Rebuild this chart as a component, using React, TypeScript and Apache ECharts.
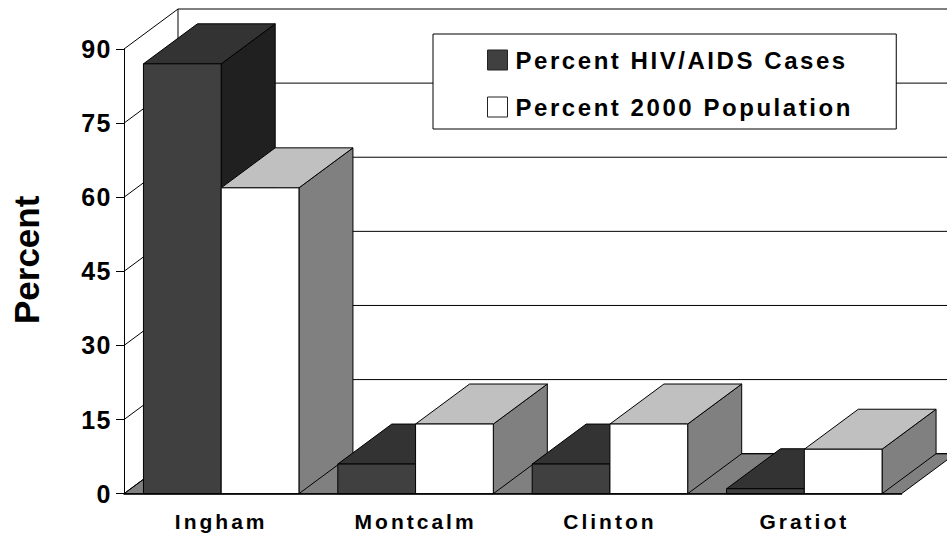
import React, { useEffect, useRef } from "react";
import * as echarts from "echarts";

const categories = ["Ingham", "Montcalm", "Clinton", "Gratiot"];
const casesValues = [87, 6, 6, 1];
const populationValues = [61.9, 14.1, 14.1, 9];
const yTicks = [0, 15, 30, 45, 60, 75, 90];
const DX = 54;
const DY = -40;
const FONT = "'Liberation Sans', Arial, sans-serif";
const caseColors = { front: "#404040", top: "#333333", side: "#202020" };
const popColors = { front: "#ffffff", top: "#c0c0c0", side: "#808080" };

function poly(points: number[][], fill: string, z2: number) {
  return {
    type: "polygon",
    z2,
    shape: { points },
    style: { fill, stroke: "#000", lineWidth: 1 },
  };
}

function barRenderer(colors: typeof caseColors, side: number, order: number) {
  return (params: any, api: any) => {
    const idx = api.value(0);
    const [cx, y1] = api.coord([idx, api.value(1)]);
    const [, y0] = api.coord([idx, 0]);
    const w = api.size([1, 0])[0] * 0.4;
    const xa = side < 0 ? cx - w : cx;
    const xb = xa + w;
    const z2 = 10 + idx * 10 + order;
    return {
      type: "group",
      children: [
        poly([[xb, y1], [xb + DX, y1 + DY], [xb + DX, y0 + DY], [xb, y0]], colors.side, z2),
        poly([[xa, y1], [xa + DX, y1 + DY], [xb + DX, y1 + DY], [xb, y1]], colors.top, z2),
        poly([[xa, y1], [xb, y1], [xb, y0], [xa, y0]], colors.front, z2),
      ],
    };
  };
}

function wallRenderer(params: any, api: any) {
  const tick = api.value(1);
  const [, y] = api.coord([0, tick]);
  const cs = params.coordSys;
  const xl = cs.x;
  const xr = cs.x + cs.width;
  const line = (x1: number, y1: number, x2: number, y2: number) => ({
    type: "line",
    z2: 1,
    shape: { x1, y1, x2, y2 },
    style: { stroke: "#000", lineWidth: 1 },
  });
  const children: any[] = [
    line(xl, y, xl + DX, y + DY),
    line(xl + DX, y + DY, xr + DX, y + DY),
  ];
  if (tick === 0) {
    children.unshift({
      type: "polygon",
      z2: 0,
      shape: { points: [[xl, y], [xl + DX, y + DY], [xr + DX, y + DY], [xr, y]] },
      style: { fill: "#808080", stroke: "#000", lineWidth: 1 },
    });
    children.push(line(xl + DX, y + DY, xl + DX, cs.y + DY));
  }
  return { type: "group", children };
}

export default function App() {
  const ref = useRef<HTMLDivElement>(null);
  useEffect(() => {
    const chart = echarts.init(ref.current!, null, { renderer: "svg" });
    chart.setOption({
      animation: false,
      backgroundColor: "#ffffff",
      grid: { left: 124, right: 45.5, top: 49, bottom: 43.3, outerBoundsMode: "none" },
      legend: {
        left: 433,
        top: 34,
        orient: "vertical",
        padding: [14, 102, 10, 54],
        itemGap: 23,
        itemWidth: 20,
        itemHeight: 20,
        backgroundColor: "#ffffff",
        borderColor: "#000000",
        borderWidth: 1,
        borderRadius: 0,
        selectedMode: false,
        z: 20,
        icon: "rect",
        itemStyle: { borderColor: "#222222", borderWidth: 1 },
        textStyle: {
          fontFamily: FONT,
          fontWeight: "bold",
          fontSize: 24,
          color: "#000",
          padding: [0, 0, 0, 3],
        },
        data: ["Percent HIV/AIDS Cases", "Percent 2000 Population"],
      },
      xAxis: {
        type: "category",
        data: categories,
        z: 15,
        axisLine: { lineStyle: { color: "#000", width: 1.5 } },
        axisTick: { length: 7, lineStyle: { color: "#000" }, alignWithLabel: false },
        axisLabel: {
          fontFamily: FONT,
          fontWeight: "bold",
          fontSize: 21,
          color: "#000",
          margin: 17,
        },
      },
      yAxis: {
        type: "value",
        min: 0,
        max: 90,
        interval: 15,
        z: 15,
        name: "Percent",
        nameLocation: "middle",
        nameRotate: 90,
        nameGap: 80,
        nameTextStyle: {
          fontFamily: FONT,
          fontWeight: "bold",
          fontSize: 35,
          color: "#000",
          padding: [0, 0, 0, 23],
        },
        splitLine: { show: false },
        axisLine: { show: true, lineStyle: { color: "#000" } },
        axisTick: { show: true, length: 8, lineStyle: { color: "#000" } },
        axisLabel: { fontFamily: FONT, fontWeight: "bold", fontSize: 25, color: "#000", margin: 12 },
      },
      series: [
        {
          type: "custom",
          name: "walls",
          silent: true,
          renderItem: wallRenderer,
          encode: { x: 0, y: 1 },
          data: yTicks.map((t) => [0, t]),
        },
        {
          type: "custom",
          name: "Percent HIV/AIDS Cases",
          itemStyle: { color: caseColors.front },
          renderItem: barRenderer(caseColors, -1, 0),
          encode: { x: 0, y: 1 },
          data: casesValues.map((v, i) => [i, v]),
        },
        {
          type: "custom",
          name: "Percent 2000 Population",
          itemStyle: { color: popColors.front },
          renderItem: barRenderer(popColors, 1, 1),
          encode: { x: 0, y: 1 },
          data: populationValues.map((v, i) => [i, v]),
        },
      ],
    });
    return () => chart.dispose();
  }, []);
  return (
    <>
      <style>{`
        #chart-3d text[style*="25px"] { letter-spacing: 1.5px; }
        #chart-3d text[style*="21px"] { letter-spacing: 3px; }
        #chart-3d text[style*="24px"] { letter-spacing: 2.55px; }
      `}</style>
      <div
        id="chart-3d"
        ref={ref}
        style={{ position: "fixed", left: 0, top: 0, width: 947, height: 537 }}
      />
    </>
  );
}
